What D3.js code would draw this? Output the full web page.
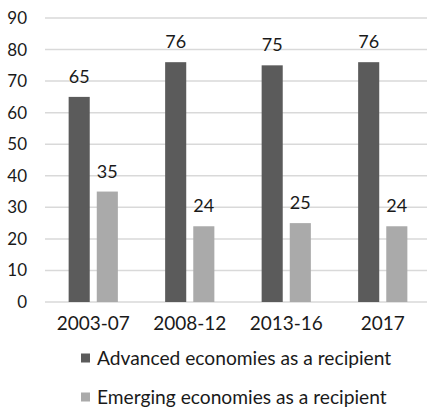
<!DOCTYPE html>
<html>
<head>
<meta charset="utf-8">
<script src="https://cdn.jsdelivr.net/npm/d3@7"></script>
<style>
  html, body { margin: 0; padding: 0; background: #fff; }
  svg { display: block; font-family: Lato, "Open Sans", sans-serif; }
</style>
</head>
<body>
<svg id="chart" width="427" height="408"></svg>
<script>
// Periods on the x axis
const categories = ["2003-07", "2008-12", "2013-16", "2017"];
// Share of flows by recipient group (%)
const advanced = [65, 76, 75, 76];
const emerging = [35, 24, 25, 24];
const seriesNames = ["Advanced economies as a recipient", "Emerging economies as a recipient"];
const seriesColors = ["#5b5b5b", "#aaaaaa"];
const yTicks = [0, 10, 20, 30, 40, 50, 60, 70, 80, 90];

const svg = d3.select("#chart");
const W = 427, H = 408;
const plot = { left: 45, right: 431, top: 18, bottom: 302 };

const x0 = d3.scaleBand()
  .domain(categories)
  .range([plot.left, plot.right])
  .paddingInner(0.49)
  .paddingOuter(0.245);

const x1 = d3.scaleBand()
  .domain(seriesNames)
  .range([0, x0.bandwidth()])
  .paddingInner(0.25);

const y = d3.scaleLinear().domain([0, 90]).range([plot.bottom, plot.top]);

// Horizontal gridlines
svg.append("g")
  .selectAll("line")
  .data(yTicks)
  .join("line")
  .attr("x1", plot.left)
  .attr("x2", W)
  .attr("y1", d => y(d))
  .attr("y2", d => y(d))
  .attr("stroke", "#d9d9d9")
  .attr("stroke-width", 1.5);

// Y axis labels
const yAxis = d3.axisLeft(y).tickValues(yTicks).tickSize(0).tickPadding(0);
const gy = svg.append("g")
  .attr("transform", `translate(${plot.left - 18},0)`)
  .call(yAxis);
gy.select(".domain").remove();
gy.selectAll("text")
  .attr("font-size", 17)
  .attr("font-family", "Lato, 'Open Sans', sans-serif")
  .attr("fill", "#1a1a1a");

// X axis labels
const xAxis = d3.axisBottom(x0).tickSize(0).tickPadding(0);
const gx = svg.append("g")
  .attr("transform", `translate(0,${plot.bottom + 14})`)
  .call(xAxis);
gx.select(".domain").remove();
gx.selectAll("text")
  .attr("font-size", 19)
  .attr("font-family", "Lato, 'Open Sans', sans-serif")
  .attr("fill", "#1a1a1a");

// Bars
const rows = categories.map((c, i) => ({
  category: c,
  values: [
    { series: seriesNames[0], value: advanced[i], color: seriesColors[0] },
    { series: seriesNames[1], value: emerging[i], color: seriesColors[1] }
  ]
}));

const groups = svg.append("g")
  .selectAll("g")
  .data(rows)
  .join("g")
  .attr("transform", d => `translate(${x0(d.category)},0)`);

groups.selectAll("rect")
  .data(d => d.values)
  .join("rect")
  .attr("x", d => x1(d.series))
  .attr("width", x1.bandwidth())
  .attr("y", d => y(d.value))
  .attr("height", d => y(0) - y(d.value))
  .attr("fill", d => d.color);

// Value labels above bars
groups.selectAll("text")
  .data(d => d.values)
  .join("text")
  .attr("x", d => x1(d.series) + x1.bandwidth() / 2)
  .attr("y", d => y(d.value) - 14)
  .attr("text-anchor", "middle")
  .attr("font-size", 18)
  .attr("fill", "#1a1a1a")
  .text(d => d.value);

// Legend
const legend = svg.append("g")
  .selectAll("g")
  .data(seriesNames)
  .join("g")
  .attr("transform", (d, i) => `translate(81,${358 + i * 39})`);

legend.append("rect")
  .attr("x", 0)
  .attr("y", -4.5)
  .attr("width", 9)
  .attr("height", 9)
  .attr("fill", (d, i) => seriesColors[i]);

legend.append("text")
  .attr("x", 16)
  .attr("y", 0)
  .attr("dy", "0.35em")
  .attr("font-size", 19.2)
  .attr("fill", "#1a1a1a")
  .text(d => d);
</script>
</body>
</html>
